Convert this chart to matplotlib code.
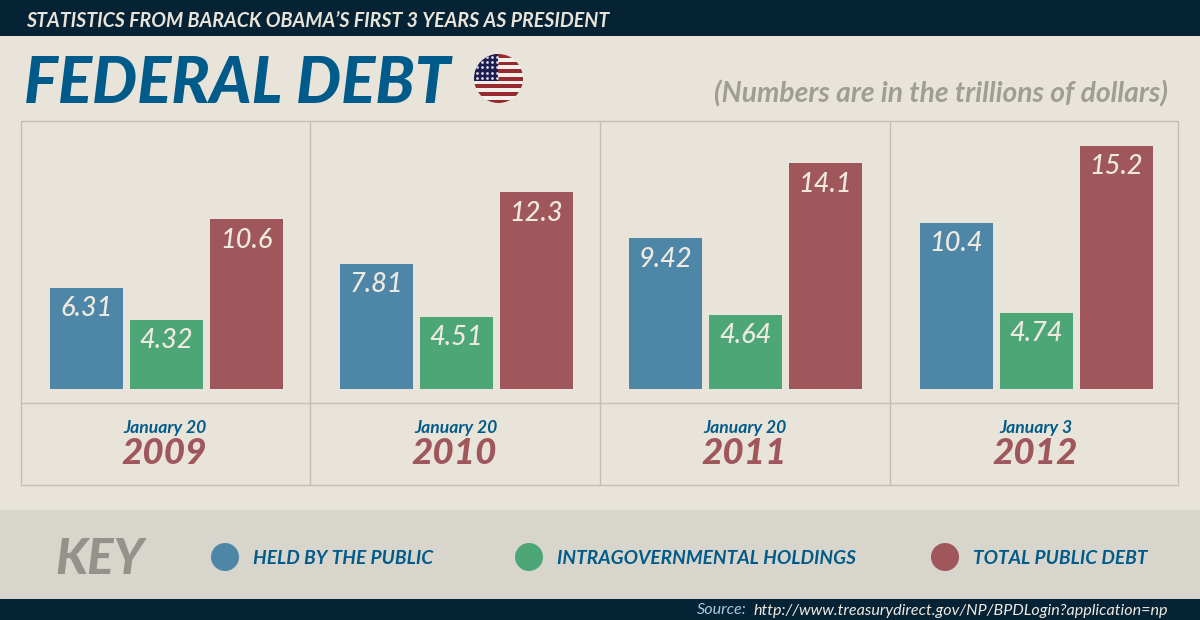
import numpy as np
import matplotlib as mpl
mpl.use('Agg')
import matplotlib.pyplot as plt
from matplotlib.patches import Circle, Rectangle

mpl.rc("font", family=["Lato", "DejaVu Sans"])

# debt in trillions of dollars
years = ["2009", "2010", "2011", "2012"]
dates = ["January 20", "January 20", "January 20", "January 3"]
held_by_public = [6.31, 7.81, 9.42, 10.4]
intragov = [4.32, 4.51, 4.64, 4.74]
total_debt = [10.6, 12.3, 14.1, 15.2]
held_labels = ["6.31", "7.81", "9.42", "10.4"]
intragov_labels = ["4.32", "4.51", "4.64", "4.74"]
total_labels = ["10.6", "12.3", "14.1", "15.2"]
key_labels = ["HELD BY THE PUBLIC", "INTRAGOVERNMENTAL HOLDINGS", "TOTAL PUBLIC DEBT"]

NAVY = "#062235"
CREAM = "#e9e4d9"
BAND = "#d8d5cd"
TITLE = "#005b8a"
BLUE = "#4e86a8"
GREEN = "#4da675"
RED = "#a0575c"
LINE = "#c4bfb2"
GREY = "#94928b"
BAR_TEXT = "#efeae0"

W, H = 1200, 620
fig = plt.figure(figsize=(W / 100, H / 100), dpi=100, facecolor=CREAM)

# page furniture is laid out in pixels, y going down
page = fig.add_axes([0, 0, 1, 1])
page.set_xlim(0, W)
page.set_ylim(H, 0)
page.axis("off")

page.add_patch(Rectangle((0, 0), W, 36, color=NAVY, lw=0))
page.add_patch(Rectangle((0, 510), W, 89, color=BAND, lw=0))
page.add_patch(Rectangle((0, 599), W, 21, color=NAVY, lw=0))


def label(x, y, s, size, color, ha="left", weight="bold"):
    page.text(x, y, s, fontsize=size, color=color, ha=ha, va="center_baseline",
              style="italic", weight=weight)


label(26, 19, "STATISTICS FROM BARACK OBAMA\u2019S FIRST 3 YEARS AS PRESIDENT", 14.1, CREAM)
label(24, 79, "FEDERAL DEBT", 45.8, TITLE, weight="black")
label(1168, 91, "(Numbers are in the trillions of dollars)", 20.3, "#a09d94", ha="right")

# flag badge
flag_clip = Circle((498.5, 78.5), 24.5, transform=page.transData)
page.add_patch(Rectangle((474, 54), 49, 49, color="#f2eeea", lw=0, clip_path=flag_clip))
for top in np.arange(54, 103, 7.6):
    page.add_patch(Rectangle((474, top), 49, 3.8, color="#962a2e", lw=0, clip_path=flag_clip))
page.add_patch(Rectangle((474, 54), 24, 27, color="#1d1d50", lw=0, clip_path=flag_clip))
star_x, star_y = np.meshgrid(np.arange(476.5, 498, 5.2), np.arange(57, 80, 5.2))
page.scatter(star_x, star_y, s=4, color="#dcdae6", lw=0, clip_path=flag_clip)

# table grid
page.add_patch(Rectangle((20.5, 121), 1157, 364, fill=False, ec=LINE, lw=1))
page.hlines(402.5, 20.5, 1177.5, color=LINE, lw=1)
page.vlines([309.5, 599.5, 889.5], 121, 485, color=LINE, lw=1)

# date and year under each group
centers = [165, 455.5, 745, 1036]
for c, d, yr in zip(centers, dates, years):
    label(c, 426, d, 12.6, TITLE, ha="center")
    label(c - 1, 451, yr, 26.5, RED, ha="center", weight="black")

# key
label(55, 556, "KEY", 35.5, GREY, weight="black")
for cx, col, s in zip([225, 529, 945], [BLUE, GREEN, RED], key_labels):
    page.add_patch(Circle((cx, 557), 14, color=col, lw=0))
    label(cx + 28, 557, s, 13.8, TITLE)

# source line
page.text(1168, 609, "http://www.treasurydirect.gov/NP/BPDLogin?application=np", fontsize=11.6,
          color=BAR_TEXT, ha="right", va="center_baseline", style="italic")
page.text(747, 609, "Source:", fontsize=11.6, color="#a9c9dc", ha="right", va="center_baseline",
          style="italic")

# bars, baseline at pixel row 389 and 16 px per trillion
ax = fig.add_axes([0, (H - 389) / H, 1, 267 / H])
ax.set_xlim(0, W)
ax.set_ylim(0, 267 / 16)
ax.axis("off")
ax.patch.set_alpha(0)

group_left = np.array([50, 340, 629, 920])
series = [(held_by_public, held_labels, BLUE), (intragov, intragov_labels, GREEN),
          (total_debt, total_labels, RED)]
for i, (values, labs, col) in enumerate(series):
    xs = group_left + i * 80 + 36.5
    ax.bar(xs, values, width=73, color=col, lw=0)
    for x, v, s in zip(xs, values, labs):
        ax.annotate(s, (x, v), xytext=(0, -15), textcoords="offset points", ha="center",
                    va="center", fontsize=19.5, color=BAR_TEXT, style="italic", weight="medium")

fig.savefig("out.png", dpi=100, facecolor=CREAM)
